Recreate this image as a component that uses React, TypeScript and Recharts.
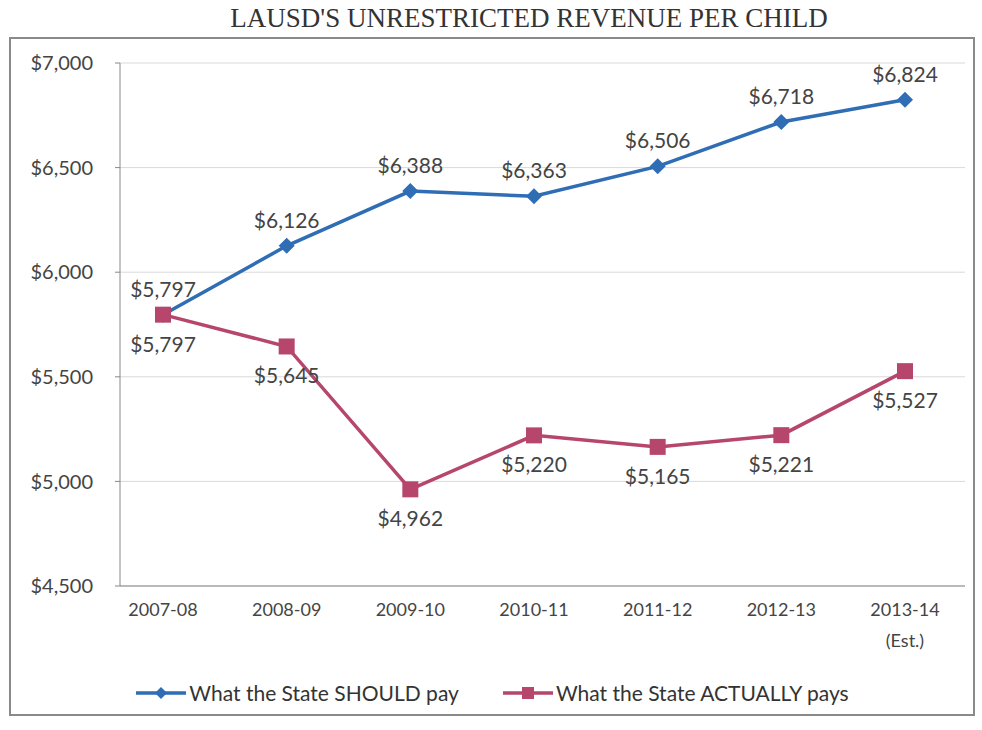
import { LineChart, Line, XAxis, YAxis, CartesianGrid, Legend, LabelList } from "recharts";

const years = ["2007-08", "2008-09", "2009-10", "2010-11", "2011-12", "2012-13", "2013-14 (Est.)"];
const shouldPay = [5797, 6126, 6388, 6363, 6506, 6718, 6824];
const actuallyPays = [5797, 5645, 4962, 5220, 5165, 5221, 5527];
const yTicks = [4500, 5000, 5500, 6000, 6500, 7000];

const data = years.map((year, i) => ({ year, should: shouldPay[i], actual: actuallyPays[i] }));

const BLUE = "#2f6db5";
const RED = "#b7466c";
const FONT = "Lato, 'Open Sans', sans-serif";

const money = (v: number) => `$${v.toLocaleString("en-US")}`;

const Diamond = (props: any) => {
  const { cx, cy } = props;
  if (cx == null || cy == null) return null;
  return <path d={`M${cx},${cy - 8} L${cx + 8},${cy} L${cx},${cy + 8} L${cx - 8},${cy} Z`} fill={BLUE} />;
};

const Square = (props: any) => {
  const { cx, cy } = props;
  if (cx == null || cy == null) return null;
  return <rect x={cx - 8} y={cy - 8} width={16} height={16} fill={RED} />;
};

const YearTick = (props: any) => {
  const { x, y, payload } = props;
  const parts = String(payload.value).split(" ");
  return (
    <text x={x} y={y + 22} textAnchor="middle" fill="#444" fontSize={18} fontFamily={FONT}>
      {parts.map((p, i) => (
        <tspan key={i} x={x} dy={i === 0 ? 0 : 31}>
          {p}
        </tspan>
      ))}
    </text>
  );
};

const LegendContent = () => (
  <div style={{ display: "flex", justifyContent: "center", gap: 44, fontFamily: FONT, fontSize: 21, color: "#333", paddingLeft: 20, paddingTop: 8 }}>
    <span style={{ display: "flex", alignItems: "center" }}>
      <svg width={50} height={16} style={{ marginRight: 3 }}>
        <line x1={0} y1={8} x2={50} y2={8} stroke={BLUE} strokeWidth={3.5} />
        <path d="M25,2 L31,8 L25,14 L19,8 Z" fill={BLUE} />
      </svg>
      What the State SHOULD pay
    </span>
    <span style={{ display: "flex", alignItems: "center" }}>
      <svg width={50} height={16} style={{ marginRight: 3 }}>
        <line x1={0} y1={8} x2={50} y2={8} stroke={RED} strokeWidth={3.5} />
        <rect x={19} y={2} width={12} height={12} fill={RED} />
      </svg>
      What the State ACTUALLY pays
    </span>
  </div>
);

export default function App() {
  return (
    <div style={{ position: "absolute", left: 0, top: 0, width: 982, height: 730, background: "#fff" }}>
      <div
        style={{
          position: "absolute",
          top: 3,
          left: 44,
          width: 970,
          textAlign: "center",
          fontFamily: "'Liberation Serif', 'Times New Roman', serif",
          fontSize: 27,
          color: "#333",
        }}
      >
        LAUSD'S UNRESTRICTED REVENUE PER CHILD
      </div>
      <div
        style={{
          position: "absolute",
          left: 9,
          top: 37,
          width: 966,
          height: 679,
          border: "2px solid #8a8a8a",
          boxSizing: "border-box",
        }}
      />
      <LineChart
        width={982}
        height={730}
        data={data}
        margin={{ top: 63, right: 17, left: 0, bottom: 14 }}
        style={{ position: "absolute", left: 0, top: 0 }}
      >
        <CartesianGrid vertical={false} stroke="#d9d9d9" />
        <XAxis
          dataKey="year"
          height={86}
          padding={{ left: 43, right: 60 }}
          tick={<YearTick />}
          tickLine={false}
          axisLine={{ stroke: "#888" }}
          interval={0}
        />
        <YAxis
          width={120}
          domain={[4500, 7000]}
          ticks={yTicks}
          tickFormatter={money}
          tick={{ fill: "#444", fontSize: 20, fontFamily: FONT }}
          tickLine={{ stroke: "#888" }}
          tickSize={5}
          tickMargin={22}
          axisLine={{ stroke: "#888" }}
        />
        <Legend verticalAlign="bottom" height={44} content={<LegendContent />} />
        <Line
          dataKey="should"
          name="What the State SHOULD pay"
          stroke={BLUE}
          strokeWidth={3.5}
          dot={<Diamond />}
          activeDot={false}
          isAnimationActive={false}
        >
          <LabelList dataKey="should" position="top" offset={18} formatter={(v: any) => money(Number(v))} fill="#444" fontSize={21} fontFamily={FONT} />
        </Line>
        <Line
          dataKey="actual"
          name="What the State ACTUALLY pays"
          stroke={RED}
          strokeWidth={3.5}
          dot={<Square />}
          activeDot={false}
          isAnimationActive={false}
        >
          <LabelList dataKey="actual" position="bottom" offset={22} formatter={(v: any) => money(Number(v))} fill="#444" fontSize={21} fontFamily={FONT} />
        </Line>
      </LineChart>
    </div>
  );
}
